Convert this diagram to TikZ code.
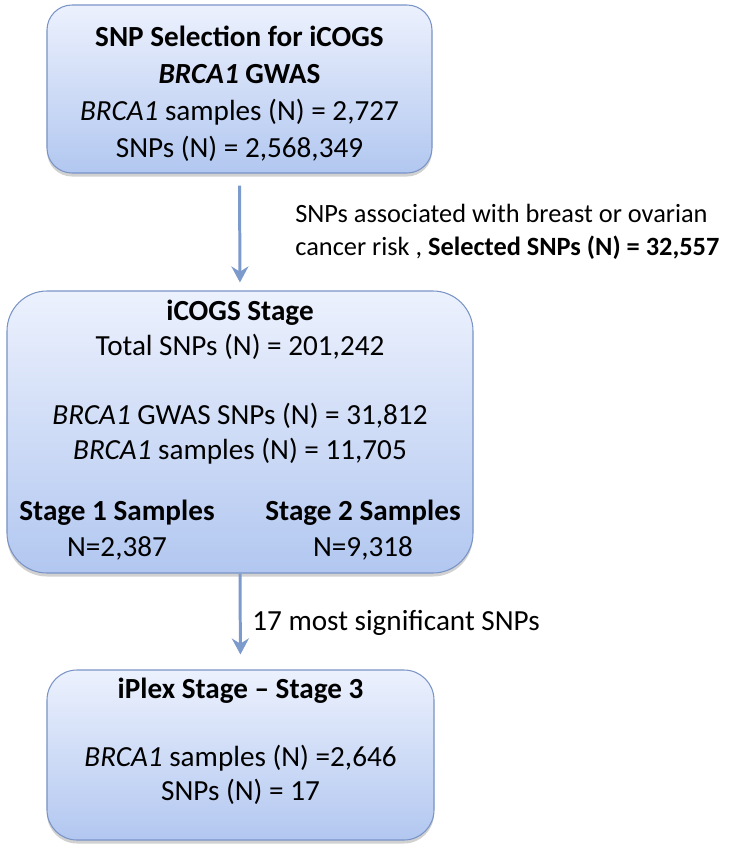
\documentclass[tikz,border=0pt]{standalone}
\usepackage{fontspec}
\setmainfont{Carlito}
\usepackage{tikz}
\usetikzlibrary{
  arrows.meta,
  positioning,
  shadows
}
\definecolor{boxtop}{RGB}{236,241,253}
\definecolor{boxbot}{RGB}{178,199,240}
\definecolor{boxline}{RGB}{122,148,198}
\definecolor{flowblue}{RGB}{124,154,204}
\newcommand{\gene}{\textit{BRCA1}}

\begin{document}
\begin{tikzpicture}[
  stagebox/.style={draw=boxline, line width=0.6pt, rounded corners=#1,
    top color=boxtop, bottom color=boxbot,
    drop shadow={shadow xshift=0pt, shadow yshift=-0.07cm, opacity=0.3, fill=black!60}},
  txt/.style={inner sep=0, align=center, font=\fontsize{16.6}{#1}\selectfont},
  note/.style={inner sep=0, align=left, anchor=west, font=\fontsize{#1}{18.7}\selectfont},
  flow/.style={-{Stealth[length=3.2mm, width=3.4mm]}, draw=flowblue, line width=1.7pt}
]
  \useasboundingbox (0,0) rectangle (14.64,-17.02);

  % SNP selection
  \node[stagebox=0.5cm, minimum width=7.7cm, minimum height=3.36cm] (sel) at (4.79,-1.78) {};
  \node[txt=21pt] (selt) at (4.79,-1.88) {\bfseries SNP Selection for iCOGS\\
    {\bfseries\gene} \bfseries GWAS\\
    \gene{} samples (N) = 2,727\\
    SNPs (N) = 2,568,349};

  % iCOGS stage
  \node[stagebox=0.8cm, minimum width=9.32cm, minimum height=5.64cm] (icogs) at (4.8,-8.64) {};
  \node[txt=19.8pt] (icogst) at (4.8,-7.64) {\bfseries iCOGS Stage\\
    Total SNPs (N) = 201,242\\[19.8pt]
    \gene{} GWAS SNPs (N) = 31,812\\
    \gene{} samples (N) = 11,705};
  \node[txt=20.4pt] (st1) at (2.34,-10.6) {\bfseries Stage 1 Samples\\N=2,387};
  \node[txt=20.4pt] (st2) at (7.26,-10.6) {\bfseries Stage 2 Samples\\N=9,318};

  % iPlex stage
  \node[stagebox=0.6cm, minimum width=7.74cm, minimum height=3.4cm] (iplex) at (4.81,-15.1) {};
  \node[txt=19.3pt] (iplext) at (4.81,-14.82) {\bfseries iPlex Stage -- Stage 3\\[19.3pt]
    \gene{} samples (N) =2,646\\
    SNPs (N) = 17};

  % Arrows
  \draw[flow, shorten <=0.24cm, shorten >=0.16cm] (sel.south) -- (icogs.north);
  \draw[flow, shorten >=0.3cm] (icogs.south) -- (iplex.north);

  \node[note=15] (selnote) at (5.9,-4.63) {SNPs associated with breast or ovarian\\
    cancer risk , \textbf{Selected SNPs (N) = 32,557}};
  \node[note=16.6] (sig) at (5.04,-12.46) {17 most significant SNPs};
\end{tikzpicture}
\end{document}
